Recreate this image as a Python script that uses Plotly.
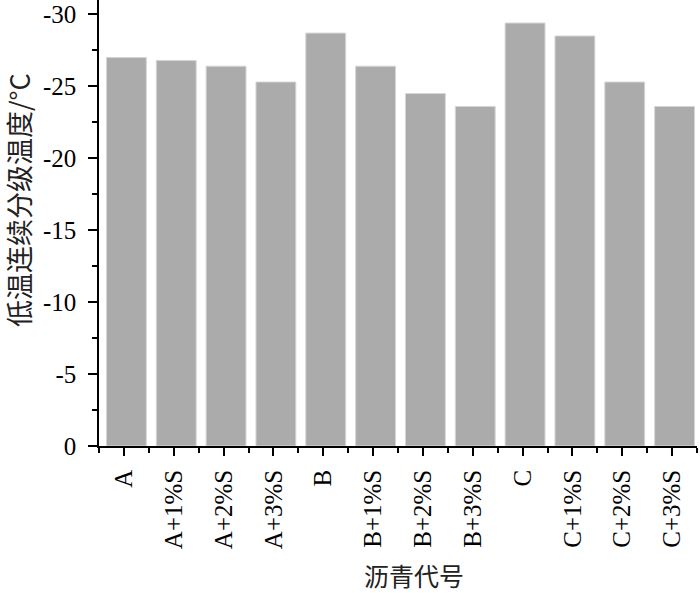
import plotly.graph_objects as go

categories = ["A", "A+1%S", "A+2%S", "A+3%S", "B", "B+1%S", "B+2%S", "B+3%S",
              "C", "C+1%S", "C+2%S", "C+3%S"]
temps = [-27.0, -26.8, -26.4, -25.3, -28.7, -26.4, -24.5, -23.6, -29.4, -28.5, -25.3, -23.6]
y_ticks = [-30, -25, -20, -15, -10, -5, 0]
x_title = "沥青代号"
y_title = "低温连续分级温度/°C"

xpos = list(range(len(categories)))

W, H = 700, 593
L, R, T, B = 99, 3, 0, 147

fig = go.Figure()
fig.add_trace(go.Bar(
    x=xpos, y=temps, width=0.8, offset=-0.35,
    marker=dict(color="#aaabaa", line=dict(color="#d6d6d6", width=1)),
))

tickfont = dict(family="Liberation Serif, Times New Roman, serif", size=25, color="black")
fig.update_layout(
    width=W, height=H,
    margin=dict(l=L, r=R, t=T, b=B),
    plot_bgcolor="white", paper_bgcolor="white",
    showlegend=False,
)
fig.update_xaxes(
    automargin=False,
    range=[-0.5, len(categories) - 0.5],
    tickmode="array", tickvals=xpos, ticktext=categories,
    tickangle=-90, tickfont=tickfont, ticklabelstandoff=4,
    ticks="outside", ticklen=8, tickwidth=1.5, tickcolor="black",
    showline=True, linecolor="black", linewidth=1.5,
    showgrid=False, zeroline=False,
    minor=dict(ticks="outside", ticklen=5, tickwidth=1.5, tickcolor="black",
               tickmode="linear", tick0=0.5, dtick=1, showgrid=False),
)
fig.update_yaxes(
    automargin=False,
    range=[0, -31],
    tickmode="array", tickvals=y_ticks, ticktext=[str(v) for v in y_ticks],
    tickfont=tickfont, ticklabelstandoff=7,
    ticks="outside", ticklen=9, tickwidth=1.5, tickcolor="black",
    showline=True, linecolor="black", linewidth=1.5,
    showgrid=False, zeroline=False,
    minor=dict(ticks="outside", ticklen=5, tickwidth=1.5, tickcolor="black",
               tickmode="linear", tick0=-2.5, dtick=5, showgrid=False),
)
pw = W - L - R
ph = H - T - B
fig.add_annotation(text=x_title, font=dict(family="Noto Sans CJK SC", size=25, color="#222"),
                   showarrow=False, xref="paper", yref="paper",
                   x=(414 - L) / pw, y=-(575 - (T + ph)) / ph,
                   xanchor="center", yanchor="middle")
fig.add_annotation(text=y_title, font=dict(family="Noto Sans CJK SC", size=27, color="#222"),
                   showarrow=False, textangle=-90, xref="paper", yref="paper",
                   x=-(L - 19) / pw, y=1 - (200 - T) / ph,
                   xanchor="center", yanchor="middle")

fig.write_html("out.html", config={"displayModeBar": False},
               post_script="document.body.style.margin='0';document.body.style.overflow='hidden';")
